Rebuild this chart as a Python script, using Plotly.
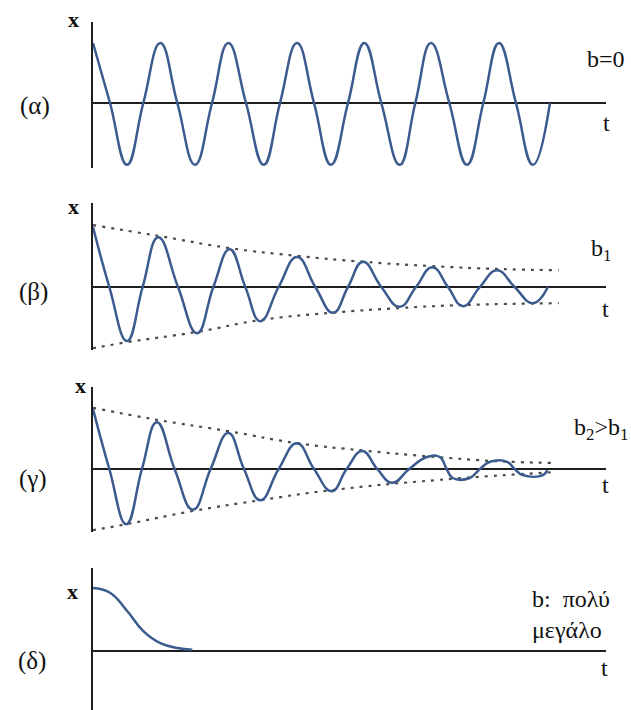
import plotly.graph_objects as go

W, H = 631, 710

# ---------------- data (t in periods, x in amplitude units) ----------------
# (α) b = 0 : undamped
alpha_t = [0, 0.25, 0.5, 0.74, 0.99, 1.24, 1.5, 1.75, 1.99, 2.25, 2.51, 2.75, 3.0, 3.25,
           3.5, 3.75, 3.99, 4.24, 4.51, 4.74, 4.97, 5.24, 5.5, 5.74, 5.97, 6.22, 6.47, 6.72]
alpha_x = [1.0, 0, -1.03, 0, 1.0, 0, -1.03, 0, 1.0, 0, -1.03, 0, 1.0, 0,
           -1.03, 0, 1.0, 0, -1.03, 0, 1.0, 0, -1.03, 0, 1.0, 0, -1.03, 0]

# (β) b1 : damped
beta_t = [0, 0.24, 0.5, 0.73, 0.96, 1.25, 1.53, 1.77, 2.01, 2.24, 2.46, 2.73, 3.0, 3.27,
          3.53, 3.75, 3.97, 4.24, 4.51, 4.75, 4.99, 5.22, 5.44, 5.69, 5.94, 6.2, 6.47, 6.69]
beta_x = [1.0, 0, -0.9, 0, 0.83, 0, -0.77, 0, 0.63, 0, -0.57, 0, 0.5, 0,
          -0.43, 0, 0.42, 0, -0.33, 0, 0.33, 0, -0.32, 0, 0.28, 0, -0.27, 0]
beta_up_t = [0, 0.97, 2.0, 2.99, 3.98, 4.96, 5.96, 6.85]
beta_up_x = [1.03, 0.85, 0.65, 0.52, 0.42, 0.35, 0.3, 0.28]
beta_lo_t = [0, 0.5, 1.52, 2.47, 3.51, 4.52, 5.46, 6.85]
beta_lo_x = [-1.02, -0.92, -0.75, -0.55, -0.43, -0.35, -0.3, -0.27]

# (γ) b2 > b1 : more damped
gamma_t = [0, 0.24, 0.49, 0.72, 0.94, 1.2, 1.47, 1.73, 1.99, 2.22, 2.46, 2.73, 3.0, 3.25,
           3.51, 3.73, 3.96, 4.18, 4.4, 4.65, 4.91, 5.1, 5.2, 5.29, 5.54, 5.69, 5.84, 6.09,
           6.2, 6.32, 6.62, 6.68]
gamma_x = [1.0, 0, -0.92, 0, 0.78, 0, -0.68, 0, 0.6, 0, -0.52, 0, 0.43, 0,
           -0.37, 0, 0.3, 0, -0.23, 0, 0.2, 0.2, 0, -0.15, -0.15, 0, 0.12, 0.12,
           0, -0.1, -0.1, -0.02]
gamma_up_t = [0, 0.94, 1.99, 3.0, 3.96, 4.95, 5.94, 6.82]
gamma_up_x = [1.02, 0.82, 0.63, 0.43, 0.31, 0.21, 0.13, 0.1]
gamma_lo_t = [0, 0.49, 1.47, 2.46, 3.53, 5.1, 6.82]
gamma_lo_x = [-1.02, -0.92, -0.7, -0.52, -0.35, -0.18, -0.05]

# (δ) b very large : overdamped
delta_t = [0, 0.25, 0.5, 0.74, 0.99, 1.24, 1.46]
delta_x = [1.05, 0.97, 0.67, 0.33, 0.13, 0.05, 0.02]

panel_labels = ["(α)", "(β)", "(γ)", "(δ)"]
b_labels = ["b=0", "b<sub>1</sub>", "b<sub>2</sub>>b<sub>1</sub>", "b:  πολύ<br>μεγάλο"]

# ---------------- styling ----------------
CURVE = "#3b5a8e"
AXIS = "#1e1e1e"
DOT = "#4a4a4a"
FONT = "Liberation Serif"
TXT = "#111111"

fig = go.Figure()

# panel geometry in pixels: (top, bottom, zero-line y)
panels = [(22, 168, 103), (203, 350, 287), (387, 532, 469), (568, 710, 651)]
x_left, x_right = 93, 606
px_per_t, px_per_x = 68.0, 60.0

layout = dict(width=W, height=H, margin=dict(l=0, r=0, t=0, b=0),
              paper_bgcolor="white", plot_bgcolor="white", showlegend=False,
              font=dict(family=FONT, color=TXT, size=22))

for i, (top, bot, zero) in enumerate(panels):
    n = "" if i == 0 else str(i + 1)
    layout["xaxis" + n] = dict(domain=[x_left / W, x_right / W],
                               range=[0, (x_right - x_left) / px_per_t],
                               showline=False, showgrid=False, zeroline=False,
                               showticklabels=False, ticks="", anchor="y" + n,
                               fixedrange=True)
    layout["yaxis" + n] = dict(domain=[1 - bot / H, 1 - top / H],
                               range=[-(bot - zero) / px_per_x, (zero - top) / px_per_x],
                               showline=True, linecolor=AXIS, linewidth=2,
                               showgrid=False, zeroline=True, zerolinecolor=AXIS,
                               zerolinewidth=2, showticklabels=False, ticks="",
                               anchor="x" + n, fixedrange=True)

def curve(t, x, k, color=CURVE, width=2.5, dash=None, shape="spline"):
    n = "" if k == 0 else str(k + 1)
    fig.add_trace(go.Scatter(x=t, y=x, mode="lines", xaxis="x" + n, yaxis="y" + n,
                             line=dict(color=color, width=width, dash=dash,
                                       shape=shape, smoothing=1.3),
                             hoverinfo="skip", cliponaxis=False))

curve(alpha_t, alpha_x, 0)
curve(beta_up_t, beta_up_x, 1, color=DOT, width=2.2, dash="3px,6px")
curve(beta_lo_t, beta_lo_x, 1, color=DOT, width=2.2, dash="3px,6px")
curve(beta_t, beta_x, 1)
curve(gamma_up_t, gamma_up_x, 2, color=DOT, width=2.2, dash="3px,6px")
curve(gamma_lo_t, gamma_lo_x, 2, color=DOT, width=2.2, dash="3px,6px")
curve(gamma_t, gamma_x, 2)
curve(delta_t, delta_x, 3)

fig.update_layout(**layout)

ann = []
x_pos = [(73, 20), (73, 206), (80, 385), (72, 591)]
lab_pos = [(35, 106), (33, 292), (33, 479), (32, 661)]
t_pos = [(606, 123), (605, 309), (605, 485), (604, 668)]
b_pos = [(606, 59), (601, 250), (601, 429), (571, 614)]
for i in range(4):
    ann.append(dict(text="<b>x</b>", x=x_pos[i][0] / W, y=1 - x_pos[i][1] / H,
                    xref="paper", yref="paper", showarrow=False,
                    font=dict(size=22, family=FONT, color=TXT),
                    xanchor="center", yanchor="middle"))
    ann.append(dict(text=panel_labels[i], x=lab_pos[i][0] / W, y=1 - lab_pos[i][1] / H,
                    xref="paper", yref="paper", showarrow=False,
                    font=dict(size=25, family=FONT, color=TXT),
                    xanchor="center", yanchor="middle"))
    ann.append(dict(text="t", x=t_pos[i][0] / W, y=1 - t_pos[i][1] / H, xref="paper",
                    yref="paper", showarrow=False,
                    font=dict(size=24, family=FONT, color=TXT),
                    xanchor="center", yanchor="middle"))
    ann.append(dict(text=b_labels[i], x=b_pos[i][0] / W, y=1 - b_pos[i][1] / H,
                    xref="paper", yref="paper", showarrow=False,
                    font=dict(size=24, family=FONT, color=TXT), xanchor="center",
                    yanchor="middle", align="left"))
fig.update_layout(annotations=ann)

fig.write_html("out.html", config={"displayModeBar": False},
               post_script="document.body.style.margin='0';"
                           "document.body.style.overflow='hidden';")
